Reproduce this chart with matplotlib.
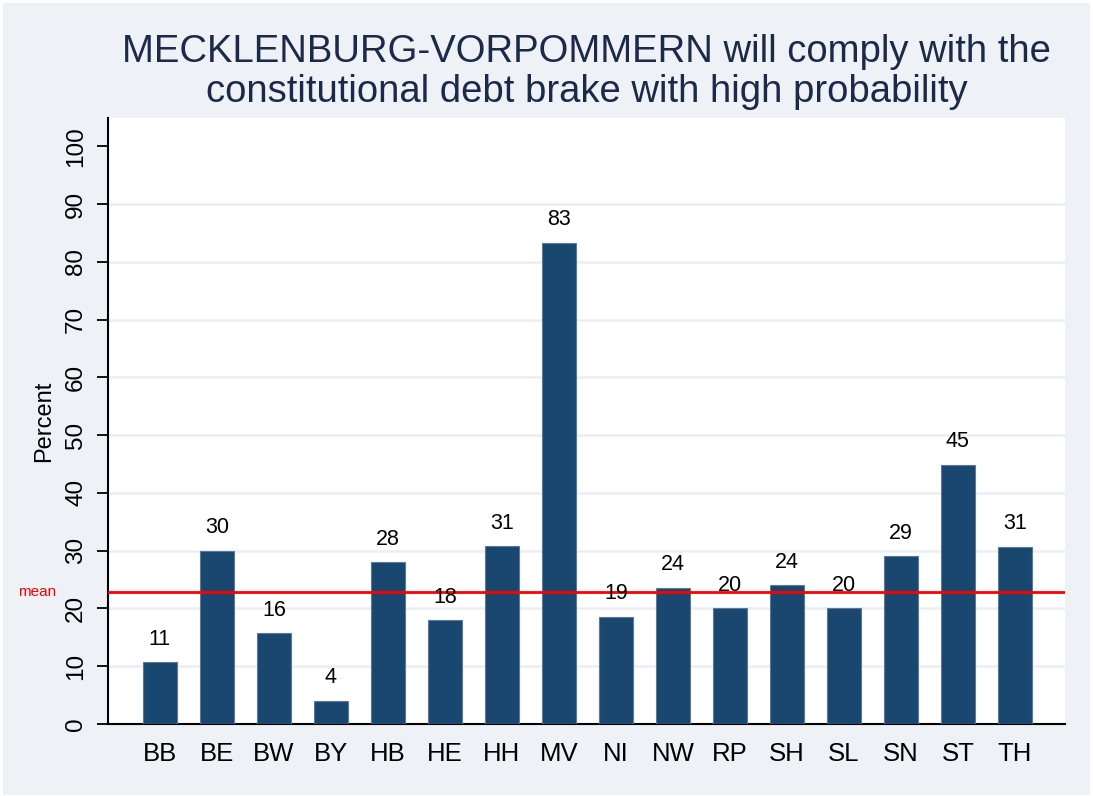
import matplotlib
matplotlib.use("Agg")
import matplotlib.pyplot as plt
from matplotlib.patches import Rectangle

plt.rcParams['font.family'] = ['Liberation Sans', 'DejaVu Sans']

# Share of respondents per federal state
states = ["BB", "BE", "BW", "BY", "HB", "HE", "HH", "MV",
          "NI", "NW", "RP", "SH", "SL", "SN", "ST", "TH"]
percent = [10.7, 30.0, 15.7, 4.0, 28.0, 18.0, 30.8, 83.3,
           18.6, 23.6, 20.0, 24.0, 20.0, 29.0, 44.9, 30.7]
mean_value = 22.9
y_ticks = [0, 10, 20, 30, 40, 50, 60, 70, 80, 90, 100]
title = ("MECKLENBURG-VORPOMMERN will comply with the\n"
         "constitutional debt brake with high probability")

W, H = 1093, 796
fig = plt.figure(figsize=(W / 100, H / 100), dpi=100)
fig.patch.set_facecolor("white")
fig.patches.append(Rectangle((3 / W, 1 / H), (W - 6) / W, (H - 4) / H,
                             transform=fig.transFigure, facecolor="#EEF1F6",
                             edgecolor="none", zorder=-10))

ax = fig.add_axes([108 / W, (H - 724) / H, (1065 - 108) / W, (724 - 118) / H])
ax.set_facecolor("white")

x = list(range(len(states)))
ax.bar(x, percent, width=0.6, color="#1A476F", edgecolor="#5B7A98",
       linewidth=0.8, zorder=3)

for xi, v in zip(x, percent):
    ax.annotate(f"{round(v):d}", (xi, v), xytext=(0, 9),
                textcoords="offset points", ha="center", va="bottom",
                fontsize=15.5, color="black", zorder=5)

# Overall mean line
ax.axhline(mean_value, color="red", lw=2, zorder=4)
ax.annotate("mean", xy=(0, mean_value), xycoords=("axes fraction", "data"),
            xytext=(-37, 0), textcoords="offset points", ha="right",
            va="center", fontsize=11, color="red")

for t in y_ticks[1:-1]:
    ax.axhline(t, color="#EAEEF4", lw=1.8, zorder=1)

ax.set_xlim(-0.91, len(states) - 1 + 0.88)
ax.set_ylim(0, 104.9)
ax.set_yticks(y_ticks)
ax.set_yticklabels([str(t) for t in y_ticks], rotation=90, va="center",
                   fontsize=17.5)
ax.set_xticks(x)
ax.set_xticklabels(states, fontsize=18.5)
ax.tick_params(axis="x", length=0, pad=13)
ax.tick_params(axis="y", length=8, width=1.3, pad=7)

for s in ["top", "right"]:
    ax.spines[s].set_visible(False)
for s in ["left", "bottom"]:
    ax.spines[s].set_linewidth(1.5)
    ax.spines[s].set_color("black")

ax.set_ylabel("Percent", fontsize=17, labelpad=7)

fig.text((108 + 1065) / 2 / W, 1 - 72 / H, title, ha="center", va="center",
         fontsize=27.5, color="#1C2A4A", linespacing=1.12)

fig.savefig("out.png", dpi=100, facecolor=fig.get_facecolor())
